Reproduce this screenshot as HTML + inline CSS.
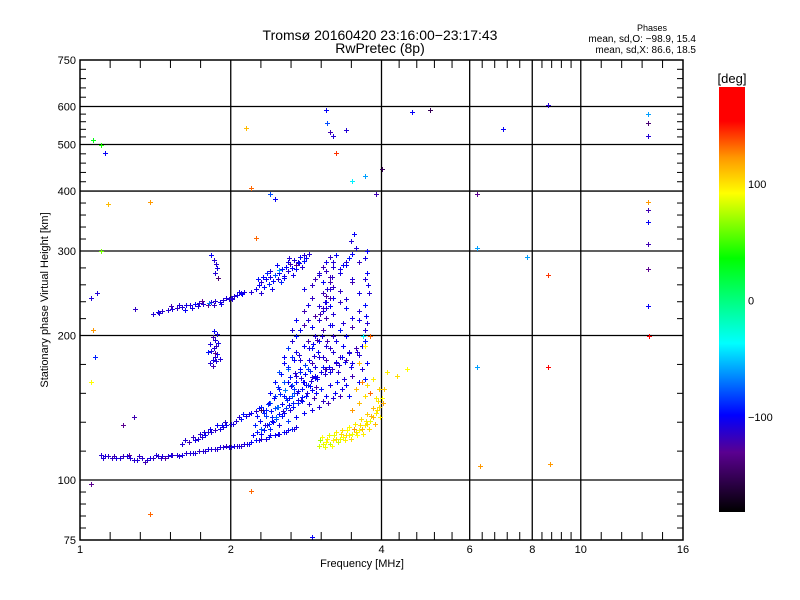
<!DOCTYPE html>
<html><head><meta charset="utf-8"><style>
body{margin:0;background:#fff;}
svg{display:block;font-family:"Liberation Sans",sans-serif;}
</style></head><body>
<svg id="chart" width="800" height="600" viewBox="0 0 800 600">
<defs><linearGradient id="cb" x1="0" y1="1" x2="0" y2="0">
<stop offset="0" stop-color="#000000"/><stop offset="0.14" stop-color="#5a0090"/><stop offset="0.228" stop-color="#0000ff"/><stop offset="0.397" stop-color="#00ffff"/><stop offset="0.597" stop-color="#00ff00"/><stop offset="0.75" stop-color="#ffff00"/><stop offset="0.833" stop-color="#ff9900"/><stop offset="0.92" stop-color="#ff0000"/><stop offset="1" stop-color="#ff0000"/></linearGradient></defs>
<rect x="0" y="0" width="800" height="600" fill="#fff"/>
<g id="grid"></g>
<g id="pts" shape-rendering="crispEdges"></g>
<rect x="80" y="60" width="603" height="480" fill="none" stroke="#000" stroke-width="1.5"/>
<g id="axes" font-size="11"></g>
<text x="380" y="40" font-size="14" text-anchor="middle">Tromsø 20160420 23:16:00−23:17:43</text>
<text x="380" y="53" font-size="14" text-anchor="middle">RwPretec (8p)</text>
<text x="652" y="31" font-size="9" text-anchor="middle">Phases</text>
<text x="696" y="42" font-size="10" text-anchor="end">mean, sd,O: −98.9, 15.4</text>
<text x="696" y="53" font-size="10" text-anchor="end">mean, sd,X:  86.6, 18.5</text>
<text x="362" y="567" font-size="11" text-anchor="middle">Frequency [MHz]</text>
<text transform="translate(48,300) rotate(-90)" font-size="11" text-anchor="middle">Stationary phase Virtual Height [km]</text>
<rect x="719" y="87" width="26" height="425" fill="url(#cb)"/>
<text x="732" y="83" font-size="13" text-anchor="middle">[deg]</text>
<g id="cbticks" font-size="11"></g>
</svg>
<script>
const xTicks=[1,2,4,6,8,10,16];
const xGrid=[2,4,6,8,10];
const yTicks=[75,100,200,300,400,500,600,750];
const yGrid=[100,200,300,400,500,600];
const cbTicks=[100,0,-100];
// lower O trace
const aF=[1.1,1.12,1.14,1.16,1.18,1.2,1.22,1.26,1.3,1.33,1.36,1.38,1.4,1.43,1.46,1.5,1.53,1.56,1.6,1.63,1.66,1.7,1.73,1.76,1.8,1.83,1.86,1.9,1.93,1.96,2.0,2.03,2.06,2.1,2.13,2.16,2.2,2.25,2.3,2.35,2.4,2.45,2.5,2.55,2.6,2.65,2.7,1.25,1.31,1.35,1.42,1.48,1.11,1.17,1.24,1.28,1.45,1.52,1.58,1.68,1.78,1.88,1.98,2.08,2.18,2.28,2.38,2.48,2.58,2.68];
const aH=[113,112,112,111,111,111,112,111,110,111,110,111,111,112,112,112,113,113,113,114,114,114,115,115,116,116,116,117,117,118,117,118,118,118,119,119,120,121,122,122,124,124,125,126,127,128,129,113,112,109,113,111,111,112,112,110,111,113,112,114,115,116,117,118,119,121,123,125,126,128];
const aP=[-110,-108,-112,-115,-105,-110,-118,-110,-108,-112,-110,-105,-115,-110,-108,-110,-120,-110,-105,-112,-110,-108,-115,-110,-105,-110,-112,-108,-110,-115,-110,-105,-110,-112,-108,-110,-100,-95,-110,-108,-105,-100,-110,-95,-100,-90,-105,-130,-115,-120,-110,-125,-110,-120,-108,-112,-115,-105,-110,-108,-112,-110,-105,-110,-100,-108,-95,-100,-105,-110];
// oblique upper low trace
const bF=[1.6,1.65,1.7,1.72,1.75,1.78,1.8,1.83,1.86,1.9,1.93,1.96,2.0,2.05,2.1,2.15,2.2,2.25,2.3,1.68,1.74,1.82,1.88,1.95,2.02,2.08,2.12,1.62,1.77,1.92,2.18,2.28];
const bH=[119,120,121,122,123,124,126,126,127,128,129,130,131,133,134,136,138,139,142,123,125,128,130,132,131,135,137,121,126,130,137,141];
const bP=[-110,-120,-105,-110,-112,-100,-110,-108,-115,-105,-110,-100,-108,-110,-95,-105,-100,-110,-90,-115,-110,-105,-100,-112,-108,-110,-95,-110,-108,-100,-105,-95];
// F1 trace
const cF=[1.4,1.43,1.46,1.5,1.53,1.56,1.6,1.63,1.66,1.7,1.73,1.76,1.8,1.83,1.86,1.9,1.93,1.96,2.0,2.03,2.06,2.1,2.13,1.52,1.58,1.67,1.75,1.85,1.98,2.08,1.29,1.44,1.62,1.72,1.81,1.91,2.01,2.11];
const cH=[222,224,225,226,227,228,229,231,232,233,234,233,232,235,236,235,237,239,240,242,243,245,247,230,231,228,236,232,238,246,227,223,226,230,234,233,238,244];
const cP=[-110,-105,-112,-110,-108,-115,-110,-105,-110,-100,-112,-110,-130,-108,-110,-105,-110,-108,-112,-110,-105,-100,-108,-120,-110,-105,-130,-115,-110,-105,-115,-110,-100,-108,-70,-105,-110,-100];
// vertical near 1.85 and high points
const dF=[1.82,1.84,1.86,1.88,1.83,1.85,1.87,1.89,1.86,1.84,1.88,1.85,1.9,1.86,1.88,1.87,1.85,1.83,1.89,1.8,1.84,1.87,1.86,1.82];
const dH=[175,178,180,183,186,188,190,193,196,199,201,204,179,270,276,282,288,294,263,185,173,177,184,192];
const dP=[-110,-105,-112,-100,-108,-110,-115,-105,-110,-120,-108,-100,-110,-110,-105,-112,-110,-100,-140,-95,-120,-110,-130,-108];
// F2 region
const eF=[2.25,2.28,2.3,2.33,2.35,2.38,2.4,2.43,2.45,2.48,2.5,2.53,2.55,2.58,2.6,2.63,2.65,2.68,2.7,2.72,2.75,2.78,2.8,2.83,2.86,2.3,2.36,2.42,2.5,2.56,2.62,2.74,3.3,3.35,3.4,3.45,3.5,3.55,3.48,3.52,2.2,2.27,2.47,2.66,2.32,2.4,2.52,2.6,2.7,2.8];
const eH=[250,255,258,252,262,256,265,260,268,262,270,275,266,278,272,282,276,288,280,285,292,278,286,290,296,245,270,250,274,264,290,283,275,280,284,290,296,305,315,325,246,262,280,268,265,272,258,285,275,295];
const eP=[-105,-100,-110,-95,-100,-90,-105,-100,-80,-110,-100,-95,-105,-100,-110,-120,-100,-110,-130,-105,-100,-110,-95,-100,-110,-110,-90,-105,-60,-100,-110,-100,-105,-100,-110,-95,-100,-108,-110,-100,-110,-95,-100,-105,-100,-110,-90,-105,-100,-110];
// main cluster
const fF=[2.3,2.33,2.36,2.4,2.43,2.46,2.5,2.53,2.56,2.6,2.63,2.66,2.7,2.73,2.76,2.8,2.83,2.86,2.9,2.93,2.96,3.0,3.03,3.06,3.1,3.13,3.16,3.2,3.23,3.26,3.3,3.33,3.36,3.4,3.45,3.5,3.55,3.6,3.65,3.7,3.75,
2.35,2.4,2.45,2.5,2.55,2.6,2.65,2.7,2.75,2.8,2.85,2.9,2.95,3.0,3.05,3.1,3.15,3.2,3.25,3.3,3.35,3.4,3.45,3.5,3.55,3.6,3.65,3.7,
2.45,2.5,2.55,2.6,2.65,2.7,2.75,2.8,2.85,2.9,2.95,3.0,3.05,3.1,3.15,3.2,3.25,3.3,3.35,3.4,3.5,3.6,3.7,
2.55,2.6,2.65,2.7,2.75,2.8,2.85,2.9,2.95,3.0,3.05,3.1,3.15,3.2,3.3,3.4,3.5,3.6,3.7,
2.65,2.7,2.8,2.85,2.9,3.0,3.05,3.1,3.15,3.2,3.3,3.4,3.5,3.6,3.7,3.75,
2.8,2.9,2.95,3.0,3.05,3.1,3.15,3.2,3.3,3.4,3.5,3.6,3.7,3.75,
3.0,3.02,3.05,3.08,3.1,3.12,3.15,3.18,3.0,3.05,3.1,3.15,3.2,3.25,3.1,3.15,3.2,3.05,3.12,3.18,3.1,3.15,
2.42,2.48,2.58,2.68,2.78,2.88,2.98,3.08,3.28,3.38,3.48,3.58,3.68,3.72,3.78,3.76,3.74];
const fH=[125,127,130,128,132,134,130,136,138,133,140,142,135,145,147,138,150,144,140,148,152,142,155,146,150,145,158,148,152,160,150,155,162,158,150,165,155,160,170,162,175,
140,145,150,155,150,160,158,165,168,160,170,175,165,180,172,178,168,185,175,180,190,178,185,175,188,182,190,195,
160,168,175,170,180,185,178,190,195,188,200,195,205,190,210,200,195,205,212,200,208,215,205,
180,188,195,200,205,210,215,208,220,215,225,218,230,222,235,228,218,225,232,
205,215,225,232,240,230,245,235,250,240,248,238,258,245,262,270,
250,255,262,268,258,272,265,278,270,280,262,285,290,300,
215,222,228,235,242,250,258,265,270,278,285,292,285,295,228,240,252,180,195,210,170,188,
135,142,148,152,146,157,164,170,168,176,172,185,200,220,245,255,212];
const fP=[-100,-95,-110,-90,-100,-80,-105,-95,-100,-85,-110,-95,-100,-90,-115,-100,-95,-110,-105,-120,-100,-110,-95,-115,-100,-120,-105,-110,-100,-95,-120,-105,-110,-100,-95,-120,-105,-100,-110,-95,-100,
-90,-70,-85,-95,-80,-100,-75,-110,-90,-100,-85,-120,-100,-110,-95,-120,-105,-110,-115,-120,-100,-95,-110,-105,-120,-110,-100,-95,
-95,-80,-100,-70,-90,-105,-110,-100,-120,-95,-110,-100,-120,-110,-100,-115,-105,-95,-110,-100,-120,-105,-110,
-100,-85,-110,-95,-100,-120,-110,-100,-125,-105,-110,-120,-100,-110,-115,-100,-105,-110,-95,
-110,-100,-120,-105,-115,-110,-120,-105,-110,-100,-115,-110,-120,-105,-110,-100,
-105,-115,-120,-110,-100,-115,-120,-110,-105,-100,-110,-115,-105,-100,
-110,-120,-115,-105,-125,-110,-120,-115,-110,-120,-105,-115,-110,-100,-110,-120,-115,-110,-120,-105,-110,-115,
-90,-75,-85,-80,-95,-100,-110,-120,-110,-100,-105,-110,-40,-100,-110,-105,-110];
// fill of lower-left part of main cluster
const iF=[2.22,2.26,2.3,2.34,2.38,2.42,2.46,2.5,2.54,2.58,2.62,2.66,2.72,2.78,2.84,2.9,2.96,2.24,2.29,2.35,2.41,2.47,2.53,2.59,2.65,2.71,2.77,2.83,2.89,2.95,2.32,2.37,2.44,2.51,2.57,2.64,2.7,2.76,2.82,2.88,2.94,2.4,2.48,2.56,2.63,2.69,2.75,2.81,2.87,2.93,2.99,2.52,2.6,2.68,2.74,2.86,2.92,2.98,3.04,2.26,2.33,2.39,2.45,2.55,2.61,2.67,2.73,2.79,2.85,2.91,2.97,3.03,3.09,3.14,3.19,3.24,3.29,3.34,3.39,3.44];
const iH=[124,126,128,130,131,133,135,137,139,141,143,145,147,149,152,154,156,130,133,136,139,142,144,147,150,152,155,158,161,163,140,144,148,151,154,157,160,163,166,169,172,152,156,160,164,167,170,174,178,181,185,166,172,178,182,188,192,196,200,136,138,145,141,150,148,155,153,160,158,164,162,168,166,172,170,176,174,180,178,184];
const iP=[-100,-95,-80,-105,-90,-100,-75,-95,-110,-85,-100,-90,-105,-95,-110,-100,-120,-90,-100,-85,-95,-70,-100,-90,-80,-105,-95,-100,-110,-100,-95,-85,-100,-90,-70,-105,-95,-110,-100,-90,-105,-100,-90,-80,-95,-110,-100,-85,-105,-110,-100,-95,-90,-100,-110,-105,-100,-120,-110,-95,-90,-100,-80,-95,-100,-85,-105,-100,-90,-110,-100,-105,-110,-100,-115,-105,-110,-100,-120,-105];
// X mode yellow
const gF=[3.0,3.05,3.1,3.15,3.2,3.25,3.3,3.35,3.4,3.45,3.5,3.55,3.6,3.65,3.7,3.75,3.8,3.85,3.9,3.95,4.0,4.05,3.02,3.12,3.22,3.32,3.42,3.52,3.62,3.72,3.82,3.92,4.02,3.5,3.6,3.7,3.8,3.9,3.55,3.65,3.75,3.85,3.95,4.1,4.3,4.5,3.6,3.7,3.8,3.08,3.18,3.28,3.38,3.48,3.58,3.68,3.78,3.88,3.98,3.04,3.14,3.24,3.34,3.44,3.54,3.64,3.74,3.84,3.94];
const gH=[118,119,120,119,121,122,122,123,124,124,125,126,127,128,130,131,133,135,138,142,148,155,121,122,124,125,127,128,130,133,136,140,145,140,145,150,152,148,155,160,158,162,155,168,165,170,175,190,200,117,118,120,121,122,124,125,128,131,135,123,124,126,127,129,131,134,137,141,146];
const gP=[80,85,90,75,95,100,85,90,100,95,85,100,90,110,95,100,85,110,95,100,90,105,70,95,85,100,90,120,100,95,110,100,115,120,110,100,130,95,110,125,100,95,105,95,100,90,110,95,130,85,90,80,95,100,90,95,100,110,95,90,85,95,100,90,95,100,105,110,100];
// scattered outliers
const hF=[1.05,1.05,1.06,1.07,1.08,1.1,1.12,1.14,1.06,1.38,1.38,1.22,1.28,1.05,2.15,2.2,2.25,2.4,2.45,3.1,3.12,3.15,3.2,3.25,3.5,3.7,3.9,4.0,4.6,5.0,6.2,6.2,6.2,6.3,7.0,8.6,8.6,8.6,8.7,7.8,13.6,13.6,13.6,13.6,13.6,13.6,13.6,13.6,13.7,13.6,2.2,2.9,1.1,2.3,3.4];
const hH=[98,160,205,180,245,300,480,375,510,85,380,130,135,240,540,405,320,395,385,590,555,530,520,480,420,430,395,445,585,590,395,305,172,107,538,605,267,172,108,292,555,520,380,365,345,310,275,230,200,578,95,76,500,140,535];
const hP=[-130,90,120,-90,-110,60,-100,110,30,130,120,-130,-120,-110,110,130,130,-80,-100,-100,-80,-120,-110,140,-40,-60,-120,-150,-100,-150,-130,-60,-60,120,-100,-110,140,170,120,-60,-140,-110,120,-120,-100,-120,-130,-100,150,-60,130,-100,40,-150,-110];

const NS='http://www.w3.org/2000/svg';
function xs(f){return 80+150.75*Math.log2(f);}
function ys(h){return 540-480*Math.log10(h/75);}
function mk(t,a,p){const e=document.createElementNS(NS,t);for(const k in a)e.setAttribute(k,a[k]);if(p)p.appendChild(e);return e;}
const stops=[[-180,0,0,0],[-130,90,0,144],[-98,0,0,255],[-37,0,255,255],[35,0,255,0],[90,255,255,0],[120,255,153,0],[150,255,0,0],[181,255,0,0]];
function col(v){for(let i=1;i<stops.length;i++){if(v<=stops[i][0]){const a=stops[i-1],b=stops[i],t=(v-a[0])/(b[0]-a[0]);return 'rgb('+[1,2,3].map(j=>Math.round(a[j]+(b[j]-a[j])*t)).join(',')+')';}}return 'rgb(255,0,0)';}
const grid=document.getElementById('grid'),axes=document.getElementById('axes'),pts=document.getElementById('pts'),cbt=document.getElementById('cbticks');
xGrid.forEach(f=>{const l=mk('line',{x1:xs(f),x2:xs(f),y1:60,y2:540,stroke:'#000','stroke-width':1.3},grid);

});
yGrid.forEach(h=>{const l=mk('line',{x1:80,x2:683,y1:ys(h),y2:ys(h),stroke:'#000','stroke-width':1.3},grid);

});
for(let i=0;i<xTicks.length-1;i++){const a=xs(xTicks[i]),b=xs(xTicks[i+1]);for(let k=1;k<5;k++){const x=a+(b-a)*k/5;mk('line',{x1:x,x2:x,y1:60,y2:68,stroke:'#000'},axes);mk('line',{x1:x,x2:x,y1:532,y2:540,stroke:'#000'},axes);}}
for(let i=0;i<yTicks.length-1;i++){const a=ys(yTicks[i]),b=ys(yTicks[i+1]);for(let k=1;k<5;k++){const y=a+(b-a)*k/5;mk('line',{x1:80,x2:86,y1:y,y2:y,stroke:'#000'},axes);mk('line',{x1:677,x2:683,y1:y,y2:y,stroke:'#000'},axes);}}
xTicks.forEach(f=>{const t=mk('text',{x:xs(f),y:553,'text-anchor':'middle'},axes);t.textContent=f;

});
yTicks.forEach(h=>{const t=mk('text',{x:76,y:ys(h)+4,'text-anchor':'end'},axes);t.textContent=h;

});
cbTicks.forEach(v=>{const y=184+(100-v)*1.165;const t=mk('text',{x:748,y:y+4},cbt);t.textContent=v===-100?'−100':v;

});
function draw(F,H,P){for(let i=0;i<F.length;i++){const x=Math.round(xs(F[i])),y=Math.round(ys(H[i]));const g=mk('path',{d:'M'+(x-2)+' '+(y+0.5)+'h5M'+(x+0.5)+' '+(y-2)+'v5',stroke:col(P[i]),'stroke-width':1.2,fill:'none'},pts);

}}
draw(aF,aH,aP);draw(bF,bH,bP);draw(cF,cH,cP);draw(dF,dH,dP);draw(eF,eH,eP);draw(fF,fH,fP);draw(iF,iH,iP);draw(gF,gH,gP);draw(hF,hH,hP);
</script>
</body></html>
